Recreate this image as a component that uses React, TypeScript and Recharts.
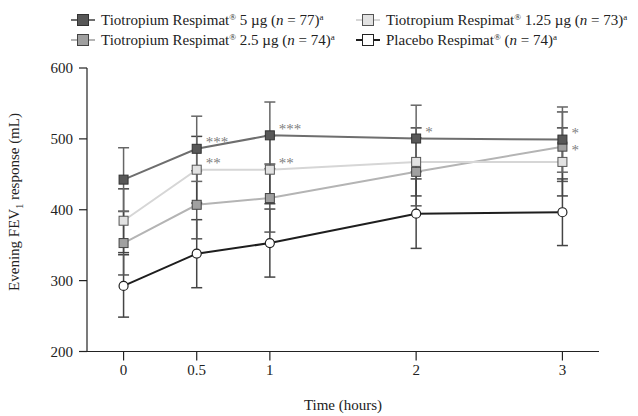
import React from "react";
import { ComposedChart, Line, XAxis, YAxis, ErrorBar, LabelList, Customized } from "recharts";

const hours = [0, 0.5, 1, 2, 3];
const tio5 = [442.5, 486, 505, 500.5, 499];
const tio5Err = [45, 46, 47, 47, 46];
const tio125 = [384.5, 456.5, 456.5, 467.5, 467.5];
const tio125Err = [45, 47, 48, 48, 48];
const tio25 = [353, 407, 416.5, 453.5, 489];
const tio25Err = [45, 48, 48, 48, 49];
const placebo = [292.5, 338, 353, 394.5, 396.5];
const placeboErr = [44, 48, 48, 49, 47];
const sig5 = ["", "***", "***", "*", "*"];
const sig125 = ["", "**", "**", "", ""];
const sig25 = ["", "", "", "", "*"];
const xTicks = [0, 0.5, 1, 2, 3];
const yTicks = [200, 300, 400, 500, 600];

const legendItems = [
  { dose: "5 µg", n: "77", fill: "#585858", line: "#6e6e6e", stroke: "#333" },
  { dose: "1.25 µg", n: "73", fill: "#e2e2e2", line: "#d6d6d6", stroke: "#555" },
  { dose: "2.5 µg", n: "74", fill: "#a0a0a0", line: "#b4b4b4", stroke: "#444" },
  { dose: "", n: "74", fill: "#ffffff", line: "#1e1e1e", stroke: "#222" },
];

const data = hours.map((t, i) => ({
  t,
  a: tio5[i], ae: tio5Err[i], as: sig5[i],
  b: tio125[i], be: tio125Err[i], bs: sig125[i],
  c: tio25[i], ce: tio25Err[i], cs: sig25[i],
  p: placebo[i], pe: placeboErr[i],
}));

const FONT = "'Liberation Serif', 'DejaVu Serif', serif";

const squareDot = (fill: string, stroke: string) => (props: any) => {
  const { cx, cy, index } = props;
  if (cx == null || cy == null) return <g key={`e${index}`} />;
  return <rect key={`d${index}`} x={cx - 4.5} y={cy - 4.5} width={9} height={9} fill={fill} stroke={stroke} strokeWidth={1} />;
};
const circleDot = (props: any) => {
  const { cx, cy, index } = props;
  if (cx == null || cy == null) return <g key={`e${index}`} />;
  return <circle key={`c${index}`} cx={cx} cy={cy} r={4.5} fill="#fff" stroke="#222" strokeWidth={1.2} />;
};

const sigLabel = (dy: number) => (props: any) => {
  const { x, y, value } = props;
  if (!value) return null;
  return (
    <text x={x + 9} y={y + dy} fontSize={15} fontFamily={FONT} fill="#808080" textAnchor="start">
      {value}
    </text>
  );
};

const Legend = () => {
  const rows = [
    { it: legendItems[0], x: 71, y: 20 },
    { it: legendItems[1], x: 356, y: 20 },
    { it: legendItems[2], x: 71, y: 40 },
    { it: legendItems[3], x: 356, y: 40 },
  ];
  return (
    <g>
      {rows.map((r, i) => (
        <g key={i}>
          <line x1={r.x} x2={r.x + 24} y1={r.y} y2={r.y} stroke={r.it.line} strokeWidth={2} />
          <rect x={r.x + 6.5} y={r.y - 5.5} width={11} height={11} fill={r.it.fill} stroke={r.it.stroke} strokeWidth={1} />
          <text x={r.x + 30} y={r.y + 5} fontSize={15} fontFamily={FONT} fill="#222">
            {r.it.dose ? "Tiotropium Respimat" : "Placebo Respimat"}
            <tspan dy={-5} fontSize={9}>®</tspan>
            <tspan dy={5}>{r.it.dose ? ` ${r.it.dose} (` : " ("}</tspan>
            <tspan fontStyle="italic">n</tspan>
            <tspan>{` = ${r.it.n})`}</tspan>
            <tspan dy={-5} fontSize={9}>a</tspan>
          </text>
        </g>
      ))}
    </g>
  );
};

const Titles = () => (
  <g>
    <text x={343} y={410} textAnchor="middle" fontSize={15} fontFamily={FONT} fill="#222">Time (hours)</text>
    <text transform="translate(19,202) rotate(-90)" textAnchor="middle" fontSize={15} fontFamily={FONT} fill="#222">
      Evening FEV<tspan dy={4} fontSize={10}>1</tspan><tspan dy={-4}> response (mL)</tspan>
    </text>
  </g>
);

export default function App() {
  return (
    <div style={{ position: "absolute", left: 0, top: 0, background: "#fff" }}>
      <ComposedChart width={638} height={416} data={data} margin={{ top: 68, right: 39, bottom: 34.5, left: 27 }}>
        <XAxis
          dataKey="t"
          type="number"
          domain={[-0.25, 3.25]}
          ticks={xTicks}
          tickSize={9}
          tickMargin={4}
          height={30}
          stroke="#222"
          strokeWidth={1.2}
          tick={{ fontSize: 15, fontFamily: FONT, fill: "#222" }}
          allowDataOverflow
        />
        <YAxis
          type="number"
          domain={[200, 600]}
          ticks={yTicks}
          tickSize={8}
          tickMargin={6}
          width={60}
          stroke="#222"
          strokeWidth={1.2}
          tick={{ fontSize: 15, fontFamily: FONT, fill: "#222" }}
          allowDataOverflow
        />
        <Line dataKey="p" stroke="#1e1e1e" strokeWidth={2} dot={circleDot} isAnimationActive={false}>
          <ErrorBar dataKey="pe" direction="y" width={5.5} stroke="#444" strokeWidth={1.5} />
        </Line>
        <Line dataKey="c" stroke="#b4b4b4" strokeWidth={2} dot={squareDot("#a0a0a0", "#444")} isAnimationActive={false}>
          <ErrorBar dataKey="ce" direction="y" width={5.5} stroke="#555" strokeWidth={1.5} />
          <LabelList dataKey="cs" content={sigLabel(8)} />
        </Line>
        <Line dataKey="b" stroke="#d6d6d6" strokeWidth={2} dot={squareDot("#e2e2e2", "#555")} isAnimationActive={false}>
          <ErrorBar dataKey="be" direction="y" width={5.5} stroke="#444" strokeWidth={1.5} />
          <LabelList dataKey="bs" content={sigLabel(-2)} />
        </Line>
        <Line dataKey="a" stroke="#6e6e6e" strokeWidth={2} dot={squareDot("#585858", "#333")} isAnimationActive={false}>
          <ErrorBar dataKey="ae" direction="y" width={5.5} stroke="#666" strokeWidth={1.5} />
          <LabelList dataKey="as" content={sigLabel(-1.5)} />
        </Line>
        <Customized component={Legend} />
        <Customized component={Titles} />
      </ComposedChart>
    </div>
  );
}
